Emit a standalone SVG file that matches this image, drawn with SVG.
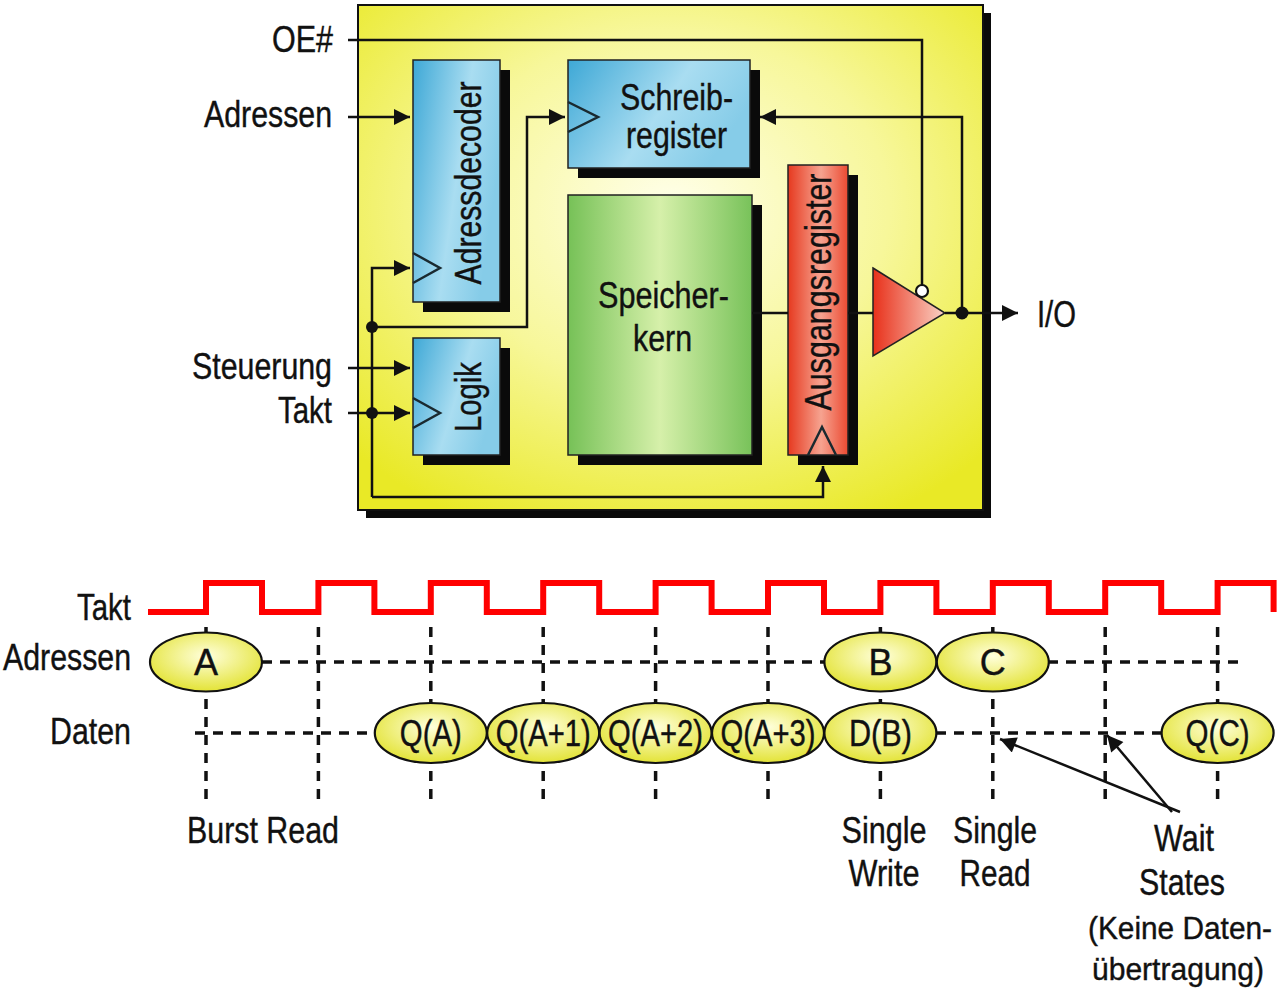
<svg xmlns="http://www.w3.org/2000/svg" width="1280" height="998" viewBox="0 0 1280 998">
<defs>
<style>
.t{font-family:"Liberation Sans",Arial,sans-serif;font-size:36px;fill:#111;stroke:#111;stroke-width:0.4}
.s2{font-size:31px}
.w{fill:none;stroke:#111;stroke-width:2.5}
.sh{fill:#0a0a0a}
.box{stroke:#222;stroke-width:1.5}
.clk{fill:none;stroke:#1a2a30;stroke-width:2.5}
.dash{fill:none;stroke:#111;stroke-width:3.5;stroke-dasharray:10 8}
.ell{fill:url(#gE);stroke:#111;stroke-width:2.2}
.dot{fill:#111}
</style>
<radialGradient id="gY" cx="50%" cy="40%" r="70%">
<stop offset="0" stop-color="#FFFFEA"/><stop offset="0.5" stop-color="#F7F79A"/><stop offset="1" stop-color="#E9E926"/>
</radialGradient>
<linearGradient id="gB" x1="0" y1="0" x2="1" y2="0.4">
<stop offset="0" stop-color="#3EA8D6"/><stop offset="0.6" stop-color="#A9DDF1"/><stop offset="1" stop-color="#86CCE8"/>
</linearGradient>
<linearGradient id="gG" x1="0" y1="0" x2="1" y2="0">
<stop offset="0" stop-color="#76C157"/><stop offset="0.5" stop-color="#D6F0AA"/><stop offset="1" stop-color="#78C25A"/>
</linearGradient>
<linearGradient id="gR" x1="0" y1="0" x2="1" y2="0">
<stop offset="0" stop-color="#E6391F"/><stop offset="0.55" stop-color="#F6A390"/><stop offset="1" stop-color="#EB4A32"/>
</linearGradient>
<linearGradient id="gT" x1="0" y1="0" x2="1" y2="0">
<stop offset="0" stop-color="#E8301A"/><stop offset="1" stop-color="#FAD3C6"/>
</linearGradient>
<radialGradient id="gE" cx="50%" cy="40%" r="60%">
<stop offset="0" stop-color="#FFFFDC"/><stop offset="1" stop-color="#E3E336"/>
</radialGradient>
<marker id="ar" viewBox="0 0 10 10" refX="10" refY="5" markerUnits="userSpaceOnUse" markerWidth="18" markerHeight="16" orient="auto">
<path d="M0,0 L10,5 L0,10 z" fill="#111"/>
</marker>
</defs>

<g id="chip">
<rect class="sh" x="366" y="13" width="625" height="505"/>
<rect x="358" y="5" width="625" height="505" fill="url(#gY)" stroke="#111" stroke-width="2"/>
</g>

<g id="adressdecoder">
<rect class="sh" x="423" y="70" width="87" height="242"/>
<rect class="box" x="413" y="60" width="87" height="242" fill="url(#gB)"/>
<polyline class="clk" points="413,253 440,268 413,283"/>
<text class="t" transform="translate(481,183) rotate(-90)" text-anchor="middle" textLength="203" lengthAdjust="spacingAndGlyphs">Adressdecoder</text>
</g>

<g id="schreibregister">
<rect class="sh" x="578" y="70" width="182" height="108"/>
<rect class="box" x="568" y="60" width="182" height="108" fill="url(#gB)"/>
<polyline class="clk" points="568,102 598,117 568,132"/>
<text class="t" x="620" y="110" textLength="113" lengthAdjust="spacingAndGlyphs">Schreib-</text>
<text class="t" x="626" y="148" textLength="101" lengthAdjust="spacingAndGlyphs">register</text>
</g>

<g id="speicherkern">
<rect class="sh" x="578" y="205" width="184" height="260"/>
<rect class="box" x="568" y="195" width="184" height="260" fill="url(#gG)"/>
<text class="t" x="598" y="308" textLength="131" lengthAdjust="spacingAndGlyphs">Speicher-</text>
<text class="t" x="633" y="351" textLength="59" lengthAdjust="spacingAndGlyphs">kern</text>
</g>

<g id="ausgangsregister">
<rect class="sh" x="798" y="175" width="60" height="290"/>
<rect class="box" x="788" y="165" width="60" height="290" fill="url(#gR)"/>
<polyline class="clk" points="808,455 822,427 836,455"/>
<text class="t" transform="translate(831,292) rotate(-90)" text-anchor="middle" textLength="237" lengthAdjust="spacingAndGlyphs">Ausgangsregister</text>
</g>

<g id="logik">
<rect class="sh" x="423" y="348" width="87" height="117"/>
<rect class="box" x="413" y="338" width="87" height="117" fill="url(#gB)"/>
<polyline class="clk" points="413,398 440,413 413,428"/>
<text class="t" transform="translate(481,397) rotate(-90)" text-anchor="middle" textLength="70" lengthAdjust="spacingAndGlyphs">Logik</text>
</g>

<g id="buffer">
<polygon points="873,268 945,313 873,356" fill="url(#gT)" stroke="#222" stroke-width="1.5"/>
<circle cx="922" cy="291" r="6" fill="#fff" stroke="#111" stroke-width="2.2"/>
</g>

<g id="labels-top">
<text class="t" x="272" y="52" textLength="61" lengthAdjust="spacingAndGlyphs">OE#</text>
<text class="t" x="204" y="127" textLength="128" lengthAdjust="spacingAndGlyphs">Adressen</text>
<text class="t" x="192" y="379" textLength="140" lengthAdjust="spacingAndGlyphs">Steuerung</text>
<text class="t" x="278" y="423" textLength="54" lengthAdjust="spacingAndGlyphs">Takt</text>
<text class="t" x="1037" y="327" textLength="39" lengthAdjust="spacingAndGlyphs">I/O</text>
</g>

<g id="connectors">
<path class="w" d="M348,40 H922 V285"/>
<path class="w" d="M348,117 H410" marker-end="url(#ar)"/>
<path class="w" d="M372,497 V268 H410" marker-end="url(#ar)"/>
<path class="w" d="M372,327 H527 V117 H565" marker-end="url(#ar)"/>
<path class="w" d="M348,368 H410" marker-end="url(#ar)"/>
<path class="w" d="M348,413 H410" marker-end="url(#ar)"/>
<path class="w" d="M372,497 H823 V466" marker-end="url(#ar)"/>
<path class="w" d="M752,313 H788"/>
<path class="w" d="M848,313 H873"/>
<path class="w" d="M945,313 H1018" marker-end="url(#ar)"/>
<path class="w" d="M962,313 V117 H760" marker-end="url(#ar)"/>
<circle class="dot" cx="372" cy="327" r="6"/>
<circle class="dot" cx="372" cy="413" r="6"/>
<circle class="dot" cx="962" cy="313" r="6.5"/>
</g>

<g id="timing">
<text class="t" x="77" y="620" textLength="54" lengthAdjust="spacingAndGlyphs">Takt</text>
<text class="t" x="3" y="670" textLength="128" lengthAdjust="spacingAndGlyphs">Adressen</text>
<text class="t" x="50" y="744" textLength="81" lengthAdjust="spacingAndGlyphs">Daten</text>

<path d="M148,612 H206 V583 H262 V612 H318.4 V583 H374.4 V612 H430.8 V583 H486.8 V612 H543.2 V583 H599.2 V612 H655.6 V583 H711.6 V612 H768 V583 H824 V612 H880.4 V583 H936.4 V612 H992.8 V583 H1048.8 V612 H1105.2 V583 H1161.2 V612 H1217.6 V583 H1273.6 V612" fill="none" stroke="#F00" stroke-width="6"/>

<g id="grid">
<path class="dash" d="M206,627 V800 M318.4,627 V800 M430.8,627 V800 M543.2,627 V800 M655.6,627 V800 M768,627 V800 M880.4,627 V800 M992.8,627 V800 M1105.2,627 V800 M1217.6,627 V800"/>
<path class="dash" d="M262,662 H826 M1048,662 H1240"/>
<path class="dash" d="M195,733 H375 M936,733 H1162"/>
</g>

<g id="addr">
<ellipse class="ell" cx="206" cy="662" rx="56" ry="29.5"/>
<text class="t" x="206" y="675" text-anchor="middle">A</text>
<ellipse class="ell" cx="880.4" cy="662" rx="56" ry="29.5"/>
<text class="t" x="880.4" y="675" text-anchor="middle">B</text>
<ellipse class="ell" cx="992.8" cy="662" rx="56" ry="29.5"/>
<text class="t" x="992.8" y="675" text-anchor="middle">C</text>
</g>

<g id="data">
<ellipse class="ell" cx="430.8" cy="733" rx="56" ry="30"/>
<text class="t" x="430.8" y="746" text-anchor="middle" textLength="62" lengthAdjust="spacingAndGlyphs">Q(A)</text>
<ellipse class="ell" cx="543.2" cy="733" rx="56" ry="30"/>
<text class="t" x="543.2" y="746" text-anchor="middle" textLength="95" lengthAdjust="spacingAndGlyphs">Q(A+1)</text>
<ellipse class="ell" cx="655.6" cy="733" rx="56" ry="30"/>
<text class="t" x="655.6" y="746" text-anchor="middle" textLength="95" lengthAdjust="spacingAndGlyphs">Q(A+2)</text>
<ellipse class="ell" cx="768" cy="733" rx="56" ry="30"/>
<text class="t" x="768" y="746" text-anchor="middle" textLength="95" lengthAdjust="spacingAndGlyphs">Q(A+3)</text>
<ellipse class="ell" cx="880.4" cy="733" rx="56" ry="30"/>
<text class="t" x="880.4" y="746" text-anchor="middle" textLength="63" lengthAdjust="spacingAndGlyphs">D(B)</text>
<ellipse class="ell" cx="1217.6" cy="733" rx="56" ry="30"/>
<text class="t" x="1217.6" y="746" text-anchor="middle" textLength="64" lengthAdjust="spacingAndGlyphs">Q(C)</text>
</g>

<g id="annotations">
<text class="t" x="263" y="843" text-anchor="middle" textLength="152" lengthAdjust="spacingAndGlyphs">Burst Read</text>
<text class="t" x="884" y="843" text-anchor="middle" textLength="85" lengthAdjust="spacingAndGlyphs">Single</text>
<text class="t" x="884" y="886" text-anchor="middle" textLength="71" lengthAdjust="spacingAndGlyphs">Write</text>
<text class="t" x="995" y="843" text-anchor="middle" textLength="84" lengthAdjust="spacingAndGlyphs">Single</text>
<text class="t" x="995" y="886" text-anchor="middle" textLength="71" lengthAdjust="spacingAndGlyphs">Read</text>
<text class="t" x="1184" y="851" text-anchor="middle" textLength="60" lengthAdjust="spacingAndGlyphs">Wait</text>
<text class="t" x="1182" y="895" text-anchor="middle" textLength="86" lengthAdjust="spacingAndGlyphs">States</text>
<text class="t s2" x="1180" y="939" text-anchor="middle" textLength="184" lengthAdjust="spacingAndGlyphs">(Keine Daten-</text>
<text class="t s2" x="1178" y="980" text-anchor="middle" textLength="172" lengthAdjust="spacingAndGlyphs">übertragung)</text>
<path class="w" d="M1180,812 L1000,739" marker-end="url(#ar)"/>
<path class="w" d="M1172,812 L1107,735" marker-end="url(#ar)"/>
</g>
</g>
</svg>
